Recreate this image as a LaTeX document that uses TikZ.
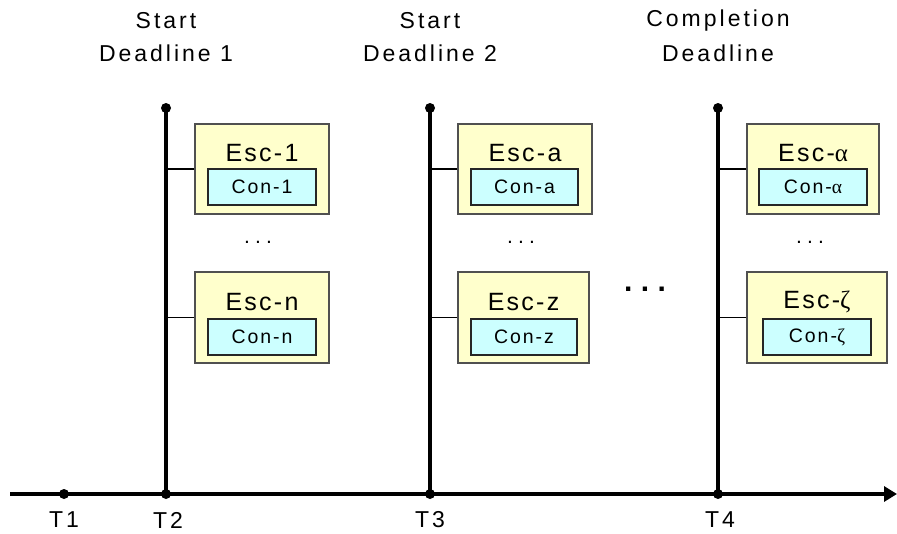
\documentclass[tikz,border=0pt]{standalone}
\usepackage{fontspec}
\setmainfont{Liberation Sans}
\newfontfamily\grk{Liberation Serif}
\usetikzlibrary{arrows.meta}
\definecolor{escfill}{HTML}{FFFFCC}
\definecolor{confill}{HTML}{CCFFFF}
\definecolor{edgegray}{HTML}{505050}
\begin{document}
\begin{tikzpicture}[x=1pt,y=-1pt,
  escbox/.style={draw=edgegray,fill=escfill,line width=1.1pt,minimum height=90pt,inner sep=0pt},
  conbox/.style={draw=black!85,fill=confill,line width=1.1pt,minimum height=36pt,inner sep=0pt,
    font=\fontsize{19.5}{23}\selectfont\addfontfeature{LetterSpace=10}},
  esctext/.style={inner sep=0pt,font=\fontsize{25}{29}\selectfont\addfontfeature{LetterSpace=9}},
  lbl/.style={inner sep=0pt,font=\fontsize{23}{27}\selectfont\addfontfeature{LetterSpace=13}},
  dots/.style={inner sep=0pt,font=\fontsize{21}{24}\selectfont\addfontfeature{LetterSpace=25}},
  dotnode/.style={circle,fill=black,inner sep=0pt,minimum size=10pt},
  thick line/.style={line width=3.2pt},
  thin line/.style={line width=1.1pt}
]
\useasboundingbox (0,0) rectangle (897,533);

% axis
\coordinate (axL) at (10,494);
\coordinate (axR) at (897,494);
\draw[thick line,-{Triangle[length=13pt,width=15pt]}] (axL) -- (axR);

% time points
\node[dotnode] (t1) at (64,494) {};
\node[dotnode] (t2) at (166,494) {};
\node[dotnode] (t3) at (430,494) {};
\node[dotnode] (t4) at (718,494) {};
\node[lbl] (lt1) at (64,520) {T1};
\node[lbl] (lt2) at (168,520) {T2};
\node[lbl] (lt3) at (430,520) {T3};
\node[lbl] (lt4) at (720,520) {T4};

% verticals
\node[dotnode] (v1) at (166,108) {};
\node[dotnode] (v2) at (430,108) {};
\node[dotnode] (v3) at (718,108) {};
\draw[thick line] (v1.center) -- (t2.center);
\draw[thick line] (v2.center) -- (t3.center);
\draw[thick line] (v3.center) -- (t4.center);

% top labels
\node[lbl] (s1a) at (166,21) {Start};
\node[lbl] (s1b) at (166,53) {Deadline 1};
\node[lbl] (s2a) at (430,21) {Start};
\node[lbl] (s2b) at (430,53) {Deadline 2};
\node[lbl] (s3a) at (718,21) {Completion};
\node[lbl] (s3b) at (718,53) {Deadline};

% column 1
\node[escbox,minimum width=134pt] (e1) at (262,169) {};
\node[esctext] (e1t) at (262,153) {Esc-1};
\node[conbox,minimum width=108pt] (c1) at (262,187) {Con-1};
\node[dots] (d1) at (258,242) {...};
\node[escbox,minimum width=134pt,minimum height=91pt] (en) at (262,317.5) {};
\node[esctext] (ent) at (262,302) {Esc-n};
\node[conbox,minimum width=108pt] (cn) at (262,337) {Con-n};

% column 2
\node[escbox,minimum width=134pt] (ea) at (525,169) {};
\node[esctext] (eat) at (525,153) {Esc-a};
\node[conbox,minimum width=107pt] (ca) at (524.5,187) {Con-a};
\node[dots] (d2) at (521,242) {...};
\node[escbox,minimum width=131pt,minimum height=91pt] (ez) at (523.5,317.5) {};
\node[esctext] (ezt) at (523.5,302) {Esc-z};
\node[conbox,minimum width=106pt] (cz) at (524,337) {Con-z};

% column 3
\node[escbox,minimum width=132pt] (eal) at (813,169) {};
\node[esctext] (ealt) at (813,153) {Esc-{\grk α}};
\node[conbox,minimum width=108pt] (cal) at (813,187) {Con-{\grk α}};
\node[dots] (d3) at (810,242) {...};
\node[escbox,minimum width=140pt,minimum height=91pt] (ez2) at (817,317.5) {};
\node[esctext] (ez2t) at (817,302) {Esc-{\grk ζ}};
\node[conbox,minimum width=108pt] (cz2) at (817,337) {Con-{\grk ζ}};

% big ellipsis
\node[inner sep=0pt,font=\fontsize{30}{34}\bfseries\selectfont\addfontfeature{LetterSpace=28}] (bigdots) at (645,289) {...};

% connectors
\draw[thin line] (e1.west) -- (e1.west -| v1);
\draw[thin line] (en.west) -- (en.west -| v1);
\draw[thin line] (ea.west) -- (ea.west -| v2);
\draw[thin line] (ez.west) -- (ez.west -| v2);
\draw[thin line] (eal.west) -- (eal.west -| v3);
\draw[thin line] (ez2.west) -- (ez2.west -| v3);
\end{tikzpicture}
\end{document}
